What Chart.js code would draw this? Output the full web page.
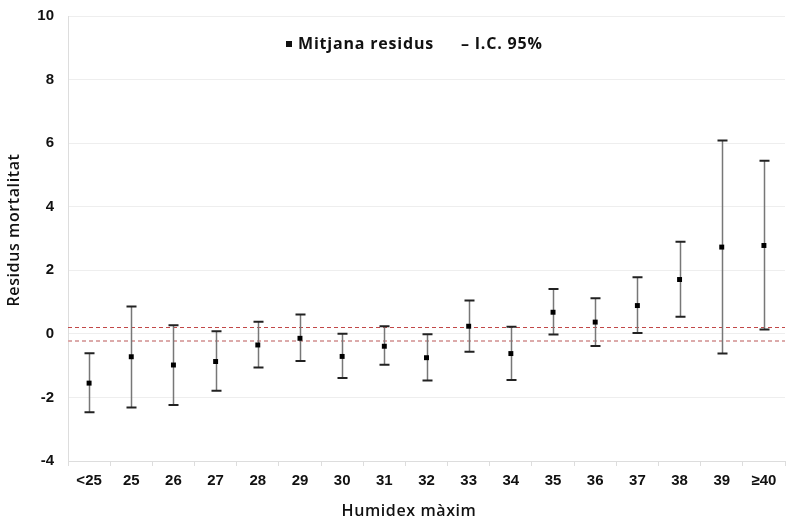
<!DOCTYPE html>
<html>
<head>
<meta charset="utf-8">
<script src="https://cdn.jsdelivr.net/npm/chart.js@4/dist/chart.umd.min.js"></script>
<style>
html,body{margin:0;padding:0;background:#fff;}
#wrap{width:789px;height:526px;}
</style>
</head>
<body>
<div id="wrap"><canvas id="c"></canvas></div>
<script>
// Data
const categories = ['<25','25','26','27','28','29','30','31','32','33','34','35','36','37','38','39','≥40'];
const meanResidus = [-1.55,-0.72,-0.98,-0.87,-0.35,-0.14,-0.71,-0.39,-0.75,0.24,-0.62,0.68,0.37,0.89,1.71,2.73,2.78];
const ciUpper     = [-0.61,0.86,0.27,0.08,0.38,0.61,0.00,0.24,-0.01,1.05,0.22,1.41,1.12,1.78,2.90,6.08,5.45];
const ciLower     = [-2.47,-2.32,-2.24,-1.79,-1.06,-0.85,-1.39,-0.97,-1.47,-0.56,-1.45,-0.02,-0.38,0.03,0.54,-0.62,0.14];
const refUpper = 0.22;
const refLower = -0.22;
const yTicks = [-4,-2,0,2,4,6,8,10];
const xTitle = 'Humidex màxim';
const yTitle = 'Residus mortalitat';
const legendMean = 'Mitjana residus';
const legendCI = '– I.C. 95%';

const errorBarPlugin = {
  id: 'errorBars',
  beforeDatasetsDraw(chart) {
    const ctx = chart.ctx, x = chart.scales.x, y = chart.scales.y, area = chart.chartArea;
    ctx.save();
    ctx.setLineDash([4,3]);
    ctx.strokeStyle = '#c24848'; ctx.lineWidth = 1;
    let py = Math.round(y.getPixelForValue(refUpper)) + 0.5;
    ctx.beginPath(); ctx.moveTo(area.left, py); ctx.lineTo(area.right, py); ctx.stroke();
    ctx.strokeStyle = '#dcaaaa'; ctx.lineWidth = 2;
    py = Math.round(y.getPixelForValue(refLower));
    ctx.beginPath(); ctx.moveTo(area.left, py); ctx.lineTo(area.right, py); ctx.stroke();
    ctx.setLineDash([]);
    categories.forEach((c, i) => {
      const px = Math.round(x.getPixelForValue(i)) + 0.5;
      const yt = y.getPixelForValue(ciUpper[i]);
      const yb = y.getPixelForValue(ciLower[i]);
      ctx.strokeStyle = '#777'; ctx.lineWidth = 1.5;
      ctx.beginPath(); ctx.moveTo(px, yt); ctx.lineTo(px, yb); ctx.stroke();
      ctx.strokeStyle = '#222'; ctx.lineWidth = 2;
      ctx.beginPath();
      ctx.moveTo(px - 5, yt); ctx.lineTo(px + 5, yt);
      ctx.moveTo(px - 5, yb); ctx.lineTo(px + 5, yb);
      ctx.stroke();
    });
    ctx.restore();
  },
  afterDraw(chart) {
    const ctx = chart.ctx;
    ctx.save();
    ctx.fillStyle = '#111';
    ctx.textBaseline = 'middle';
    ctx.font = 'bold 16px "Open Sans"';
    ctx.letterSpacing = '0.8px';
    ctx.fillRect(286, 41, 6, 6);
    ctx.fillText(legendMean, 298, 44);
    ctx.fillText(legendCI, 461, 44);
    ctx.font = '600 16px "Open Sans"';
    ctx.letterSpacing = '0.6px';
    ctx.textAlign = 'center';
    ctx.fillText(xTitle, 409, 511);
    ctx.translate(14, 230);
    ctx.rotate(-Math.PI / 2);
    ctx.fillText(yTitle, 0, 0);
    ctx.restore();
  }
};

new Chart(document.getElementById('c'), {
  type: 'line',
  data: {
    labels: categories,
    datasets: [{
      label: legendMean,
      data: meanResidus,
      showLine: false,
      pointStyle: 'rect',
      pointRadius: 3.5,
      pointBackgroundColor: '#000',
      pointBorderColor: '#000',
      pointBorderWidth: 0
    }]
  },
  options: {
    responsive: true,
    maintainAspectRatio: false,
    animation: false,
    layout: { padding: { top: 0, right: 0, left: 0, bottom: 0 } },
    plugins: { legend: { display: false }, tooltip: { enabled: false } },
    scales: {
      x: {
        offset: true,
        grid: { offset: true, drawOnChartArea: false, drawTicks: true, tickLength: 5, color: '#dddddd' },
        border: { color: '#dddddd' },
        ticks: { color: '#111', font: { family: '"Liberation Sans"', weight: 'bold', size: 15 }, padding: 6, maxRotation: 0, autoSkip: false },
        afterFit(s) { s.height = 65; s.paddingLeft = 0; s.paddingRight = 0; }
      },
      y: {
        min: -4, max: 10,
        afterBuildTicks(s) { s.ticks = yTicks.map(v => ({ value: v })); },
        grid: { color: '#eeeeee', drawTicks: false },
        border: { color: '#dddddd' },
        ticks: { color: '#111', font: { family: '"Liberation Sans"', weight: 'bold', size: 15 }, padding: 14 },
        afterFit(s) { s.width = 68; s.paddingTop = 16; s.paddingBottom = 0; }
      }
    }
  },
  plugins: [errorBarPlugin]
});
</script>
</body>
</html>
